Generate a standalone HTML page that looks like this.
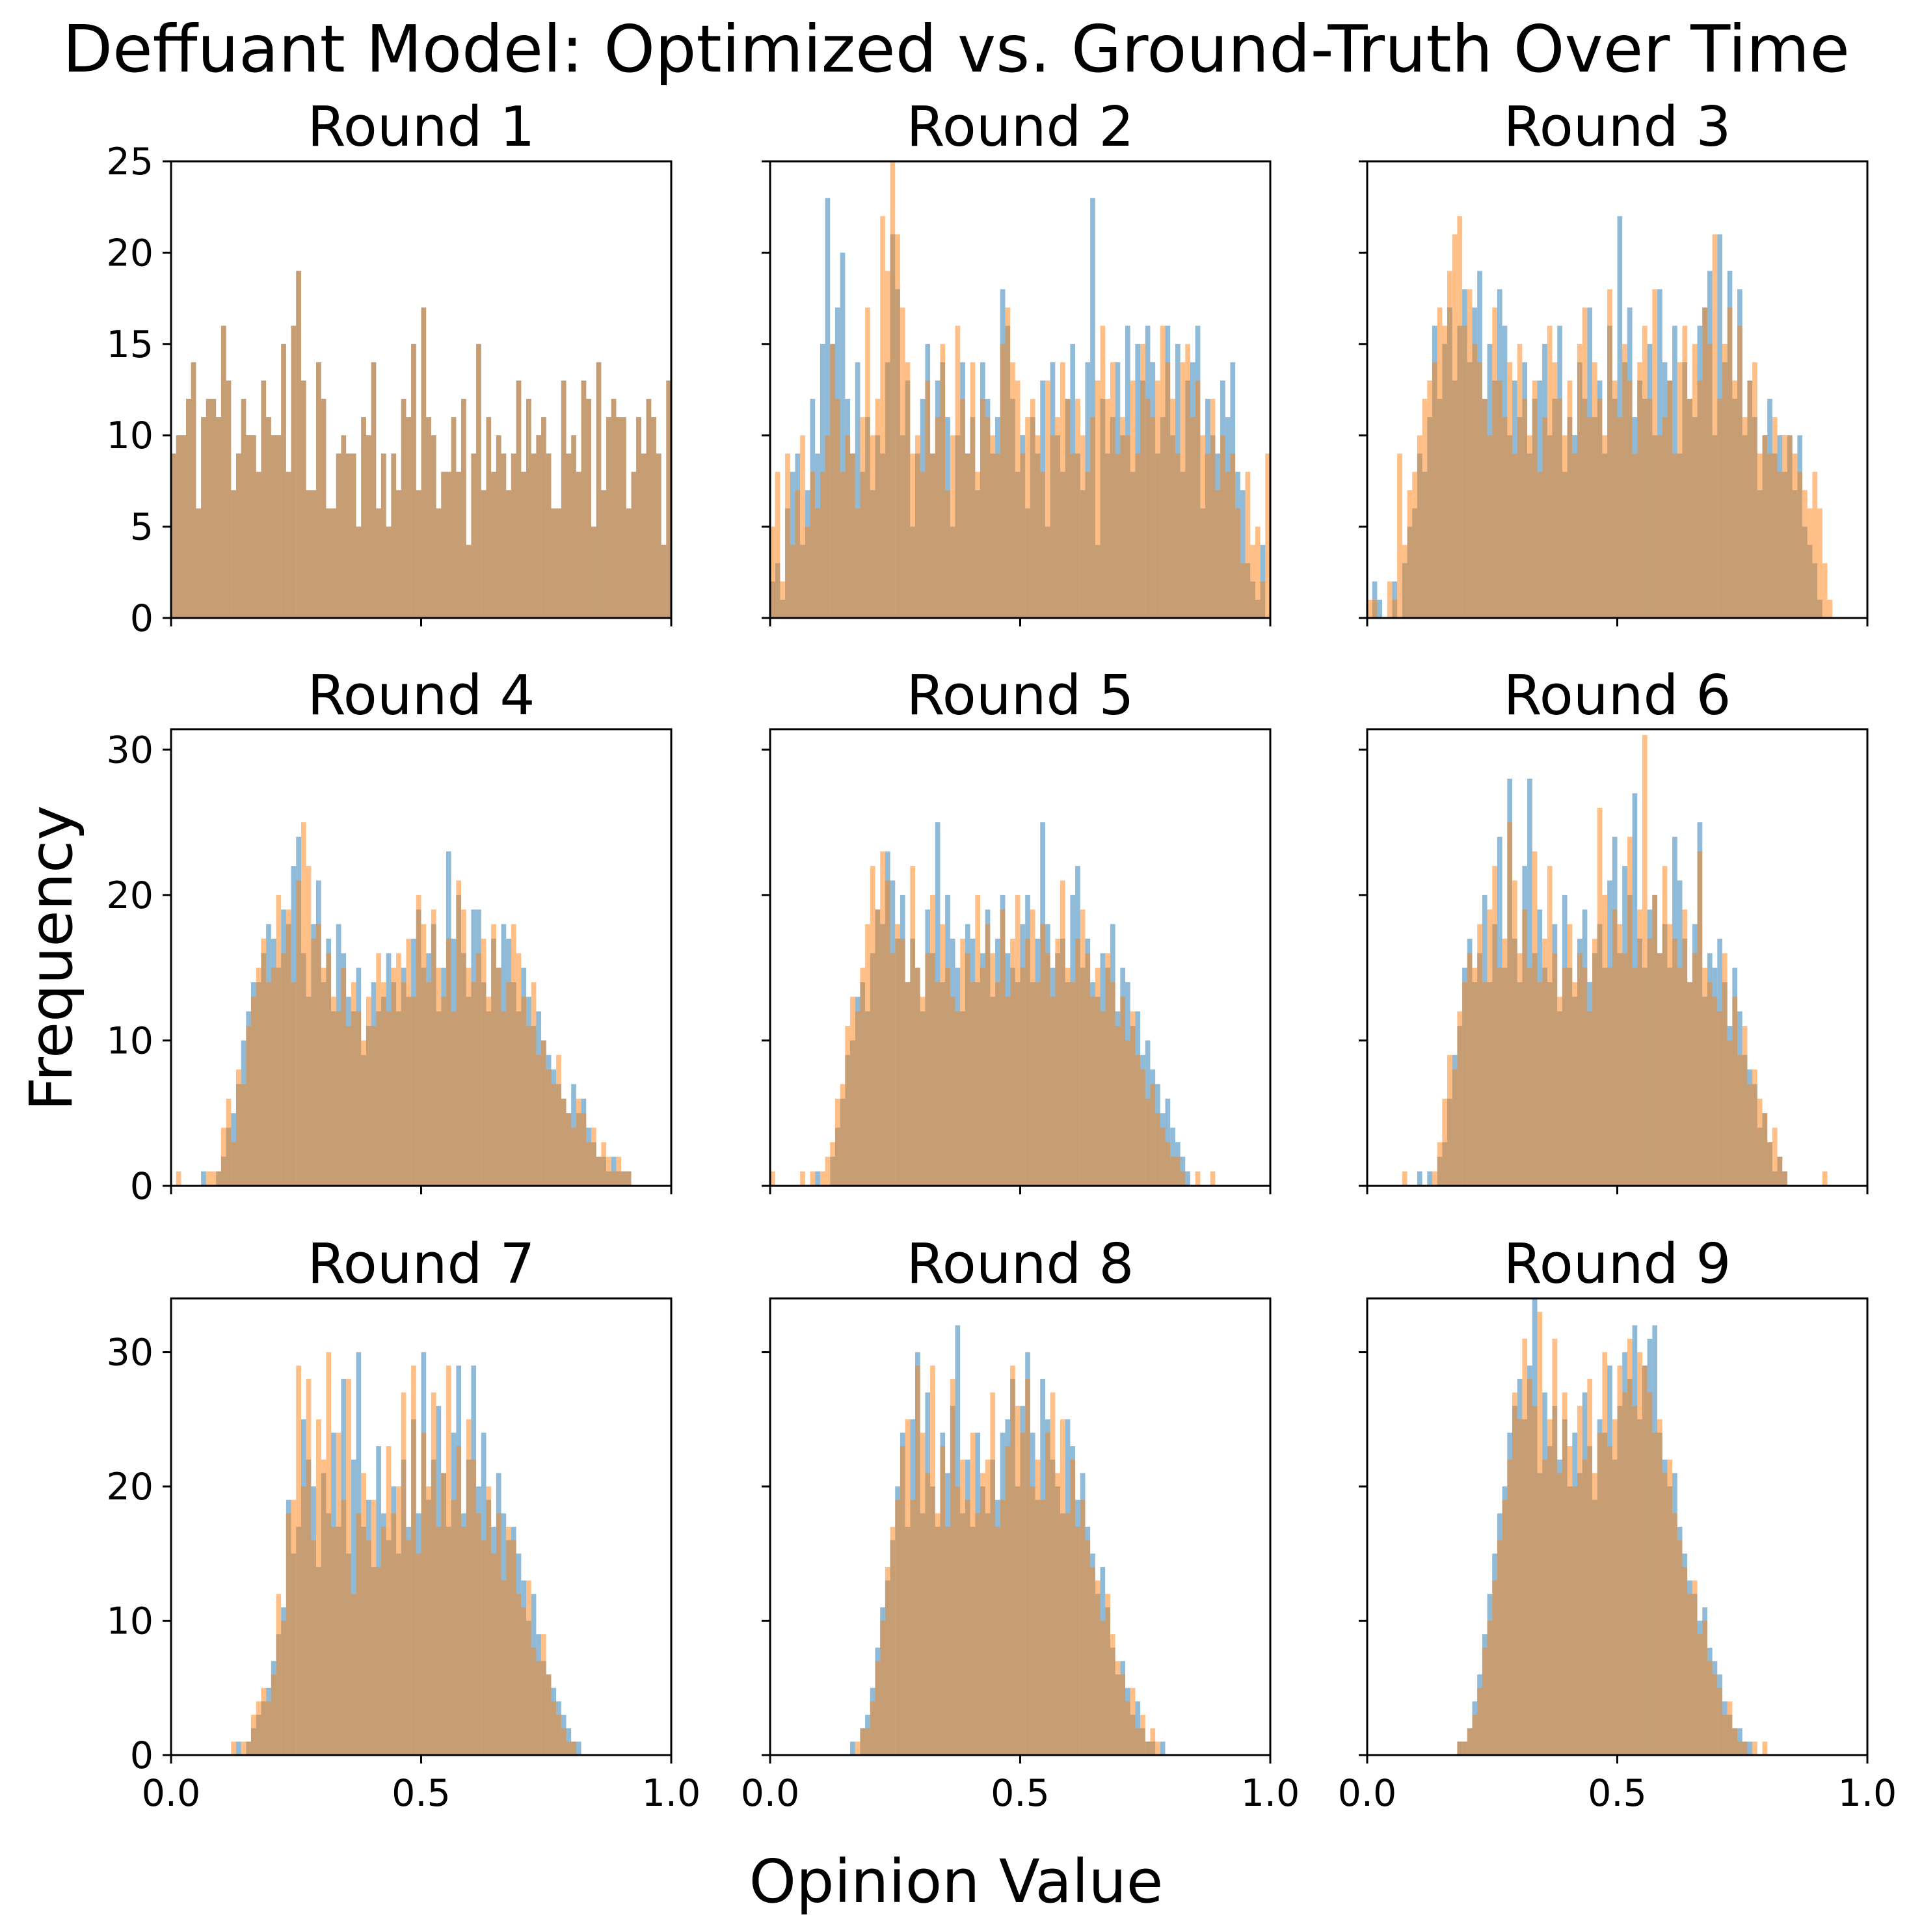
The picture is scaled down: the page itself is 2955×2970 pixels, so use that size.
<!DOCTYPE html>
<html><head><meta charset="utf-8"><style>
html,body{margin:0;padding:0;background:#fff;}
svg{display:block;font-family:"DejaVu Sans","Liberation Sans",sans-serif;}
</style></head><body>
<svg id="fig" width="2955" height="2970" viewBox="0 0 2955 2970" xmlns="http://www.w3.org/2000/svg">
<rect width="2955" height="2970" fill="#fff"/>
<text x="1470" y="110" font-size="100" text-anchor="middle">Deffuant Model: Optimized vs. Ground-Truth Over Time</text>
<text x="0" y="0" font-size="91" text-anchor="middle" transform="translate(110,1473) rotate(-90)">Frequency</text>
<text x="1470" y="2924" font-size="92" text-anchor="middle">Opinion Value</text>
</svg>
<script>
const binCount = 100;
const r1Values = [9,10,10,12,14,6,11,12,12,11,16,13,7,9,12,10,10,8,13,11,10,10,15,8,16,19,13,7,7,14,12,6,6,9,10,9,9,5,11,10,14,6,9,5,9,7,12,11,15,7,17,11,10,6,8,8,11,8,12,4,9,15,7,11,8,10,9,7,9,13,8,12,9,10,11,9,6,6,13,9,10,8,13,12,5,14,7,11,12,11,11,6,8,11,9,12,11,9,4,13];
const r2Blue = [2,3,1,6,8,9,4,7,12,9,15,23,15,17,20,12,9,14,8,11,7,10,9,14,21,18,10,13,5,9,12,15,9,13,14,11,5,10,14,9,11,7,14,12,9,11,18,16,12,8,10,6,11,9,13,5,14,10,8,12,15,9,7,14,23,4,12,9,11,14,10,16,8,15,13,16,14,9,11,16,10,15,8,13,14,16,6,12,10,9,13,11,14,8,7,3,2,1,4,0];
const r2Orange = [5,8,2,9,4,7,10,5,8,6,8,10,15,12,8,10,9,6,11,17,10,12,22,19,25,21,17,14,9,10,8,13,9,11,15,7,10,16,12,9,14,8,12,11,10,9,15,17,14,13,9,11,12,10,8,13,10,11,14,12,9,12,10,8,11,13,16,12,14,9,11,10,13,9,15,12,11,13,16,14,12,9,14,15,11,13,10,9,12,7,10,8,9,6,3,8,4,5,2,9];
const r3Blue = [0,2,1,0,0,2,0,3,5,6,9,8,11,16,12,15,17,13,16,18,14,17,19,12,15,13,18,16,10,13,11,14,9,12,13,15,10,12,16,8,11,10,14,12,17,11,13,9,16,12,22,14,17,11,13,12,15,10,18,14,13,16,9,14,12,11,16,17,19,10,21,14,19,12,18,10,13,11,7,10,12,9,10,8,10,7,10,5,4,3,1,0,0,0,0,0,0,0,0,0];
const r3Orange = [1,1,0,0,2,1,9,4,7,8,10,12,13,14,17,16,19,21,22,16,18,15,14,12,10,17,13,11,14,9,15,12,10,13,8,11,16,14,12,10,13,9,15,17,11,14,12,10,18,13,11,15,13,9,14,16,12,18,10,11,13,9,14,16,12,15,13,17,15,21,12,15,17,13,16,11,13,14,9,10,9,11,8,10,10,9,8,7,6,8,6,3,1,0,0,0,0,0,0,0];
const r4Blue = [0,0,0,0,0,0,1,0,0,1,2,4,5,7,10,12,14,14,16,18,17,15,19,18,22,24,16,13,18,21,14,17,12,18,16,13,12,15,9,11,14,12,13,16,14,12,15,13,17,19,15,16,18,12,15,23,17,20,16,13,19,19,14,12,17,15,18,17,14,12,15,13,11,12,10,9,8,7,6,5,7,5,6,4,3,2,2,1,2,1,1,1,0,0,0,0,0,0,0,0];
const r4Orange = [0,1,0,0,0,0,0,1,1,1,4,6,3,8,7,11,13,15,17,14,15,20,16,19,14,21,25,22,17,18,15,16,13,12,15,11,14,12,10,13,11,16,14,12,15,16,14,17,13,20,18,14,19,15,13,17,12,21,19,15,14,16,17,13,18,15,12,14,18,16,13,11,14,9,10,8,7,9,6,5,4,6,5,3,4,2,3,2,1,2,1,1,0,0,0,0,0,0,0,0];
const r5Blue = [0,0,0,0,0,0,0,0,0,1,0,0,2,4,6,9,10,13,14,12,16,19,18,23,21,17,20,14,17,15,12,19,16,25,14,20,17,15,12,18,17,14,16,19,13,17,20,16,15,14,18,20,14,17,25,18,15,16,17,14,20,22,15,17,14,13,16,15,18,12,15,14,11,12,9,10,8,7,5,6,4,3,2,1,0,0,0,0,0,0,0,0,0,0,0,0,0,0,0,0];
const r5Orange = [1,0,0,0,0,0,1,0,1,0,1,2,3,6,7,11,13,12,15,18,22,19,23,21,16,18,17,14,22,15,13,16,20,14,18,15,13,12,17,16,14,20,15,18,16,14,19,13,17,20,15,17,19,14,18,16,13,17,21,15,14,17,19,16,13,15,12,16,14,11,13,10,12,9,8,6,7,5,4,3,2,2,1,0,0,1,0,0,1,0,0,0,0,0,0,0,0,0,0,0];
const r6Blue = [0,0,0,0,0,0,0,0,0,0,1,0,1,0,2,3,6,9,11,15,17,14,16,20,14,18,24,15,28,17,14,22,28,16,19,15,14,18,12,20,15,13,17,19,14,16,18,15,21,24,16,22,20,27,17,15,19,20,16,18,15,24,21,17,14,18,25,13,16,15,17,14,11,15,12,9,8,7,4,5,3,1,2,1,0,0,0,0,0,0,0,0,0,0,0,0,0,0,0,0];
const r6Orange = [0,0,0,0,0,0,0,1,0,0,0,0,0,1,3,6,9,8,12,14,16,15,18,14,19,22,15,17,25,21,16,19,15,23,14,17,22,16,13,15,18,14,16,15,12,17,26,20,15,19,18,16,24,15,19,31,17,20,16,22,18,17,15,19,14,16,23,15,14,13,12,16,10,13,9,11,7,8,6,5,3,4,2,1,0,0,0,0,0,0,0,1,0,0,0,0,0,0,0,0];
const r7Blue = [0,0,0,0,0,0,0,0,0,0,0,0,0,1,0,1,2,3,4,5,7,9,11,19,15,17,25,22,20,14,21,18,24,17,28,15,22,30,17,19,14,23,18,16,20,15,22,17,25,18,30,19,22,26,21,17,24,29,18,22,29,20,24,19,17,21,18,16,17,15,13,10,12,9,7,6,5,4,3,2,1,1,0,0,0,0,0,0,0,0,0,0,0,0,0,0,0,0,0,0];
const r7Orange = [0,0,0,0,0,0,0,0,0,0,0,0,1,0,1,1,3,4,5,4,6,12,10,18,19,29,20,28,16,25,22,30,17,24,19,28,12,18,21,16,19,14,17,23,18,20,27,16,29,15,24,20,27,17,21,29,19,23,17,25,22,18,16,20,15,18,13,17,16,12,11,13,8,7,9,6,4,3,2,1,1,0,0,0,0,0,0,0,0,0,0,0,0,0,0,0,0,0,0,0];
const r8Blue = [0,0,0,0,0,0,0,0,0,0,0,0,0,0,0,0,1,0,2,3,5,8,11,13,16,20,24,17,25,30,18,27,20,17,24,21,26,32,18,22,17,24,20,18,22,19,24,25,28,20,26,30,24,19,28,25,22,20,18,25,23,19,21,17,15,12,14,11,8,6,7,5,3,4,2,1,1,0,1,0,0,0,0,0,0,0,0,0,0,0,0,0,0,0,0,0,0,0,0,0];
const r8Orange = [0,0,0,0,0,0,0,0,0,0,0,0,0,0,0,0,0,1,2,2,4,7,10,14,17,19,23,25,19,29,24,21,29,18,23,17,28,20,22,19,24,18,21,22,27,17,19,23,29,26,24,28,20,22,19,24,27,21,25,18,22,17,19,16,14,13,10,12,9,7,6,4,5,2,3,1,2,1,0,0,0,0,0,0,0,0,0,0,0,0,0,0,0,0,0,0,0,0,0,0];
const r9Blue = [0,0,0,0,0,0,0,0,0,0,0,0,0,0,0,0,0,0,1,1,2,4,6,9,12,15,18,20,24,26,28,25,29,34,21,27,23,26,22,25,20,24,21,27,23,19,25,24,29,22,26,30,28,32,25,29,31,32,24,22,20,21,17,15,13,12,10,11,8,7,6,4,3,2,2,1,1,0,0,0,0,0,0,0,0,0,0,0,0,0,0,0,0,0,0,0,0,0,0,0];
const r9Orange = [0,0,0,0,0,0,0,0,0,0,0,0,0,0,0,0,0,0,1,1,2,3,5,8,10,13,16,19,22,27,25,31,28,26,33,22,25,31,21,27,23,20,26,22,28,21,24,30,23,25,29,27,31,26,30,29,27,24,25,21,22,18,16,14,12,13,9,10,7,6,5,3,4,2,1,1,0,1,0,1,0,0,0,0,0,0,0,0,0,0,0,0,0,0,0,0,0,0,0,0];
const row1Ticks = [0,5,10,15,20,25];
const row2Ticks = [0,10,20,30];
const row3Ticks = [0,10,20,30];
const xTicks = [0, 0.5, 1.0];
const xTickLabels = ["0.0","0.5","1.0"];
const rowMax = [25, 31.4, 34.0];

const NS = "http://www.w3.org/2000/svg";
const svg = document.getElementById('fig');
const colLeft = [263, 1184, 2102];
const rowTop = [248, 1121, 1996];
const W = 769, H = 702;
const panels = [
  [r1Values, r1Values], [r2Blue, r2Orange], [r3Blue, r3Orange],
  [r4Blue, r4Orange], [r5Blue, r5Orange], [r6Blue, r6Orange],
  [r7Blue, r7Orange], [r8Blue, r8Orange], [r9Blue, r9Orange]
];
const rowTicks = [row1Ticks, row2Ticks, row3Ticks];
const titleY = [224, 1098, 1972];

function mk(tag, attrs) {
  const e = document.createElementNS(NS, tag);
  for (const k in attrs) e.setAttribute(k, attrs[k]);
  return e;
}

panels.forEach((series, p) => {
  const r = Math.floor(p / 3), c = p % 3;
  const L = colLeft[c], T = rowTop[r];
  const xS = v => L + v * W;
  const yS = v => T + H - (v / rowMax[r]) * H;
  const g = mk('g', {});
  
  
  svg.appendChild(g);
  const colors = ['#1f77b4', '#ff7f0e'];
  const names = ['optimized', 'ground-truth'];
  series.forEach((vals, s) => {
    const sg = mk('g', {fill: colors[s], 'fill-opacity': 0.5});
    
    
    g.appendChild(sg);
    for (let i = 0; i < binCount; i++) {
      const v = vals[i] || 0;
      if (v <= 0) continue;
      const x0 = xS(i / binCount), x1 = xS((i + 1) / binCount);
      const y = yS(Math.min(v, rowMax[r]));
      const b = mk('rect', {x: x0, y: y, width: x1 - x0, height: T + H - y});
      
      
      sg.appendChild(b);
    }
  });
  const frame = mk('rect', {x: L, y: T, width: W, height: H, fill: 'none', stroke: '#000', 'stroke-width': 3});
  
  
  g.appendChild(frame);
  const t = mk('text', {x: L + W / 2, y: titleY[r], 'font-size': 85, 'text-anchor': 'middle'});
  
  
  t.textContent = 'Round ' + (p + 1);
  g.appendChild(t);
  xTicks.forEach((xv, k) => {
    const tk = mk('line', {x1: xS(xv), x2: xS(xv), y1: T + H, y2: T + H + 13, stroke: '#000', 'stroke-width': 3});
    
    
    g.appendChild(tk);
    if (r === 2) {
      const lb = mk('text', {x: xS(xv), y: T + H + 78, 'font-size': 57, 'text-anchor': 'middle'});
      
      
      lb.textContent = xTickLabels[k];
      g.appendChild(lb);
    }
  });
  rowTicks[r].forEach(yv => {
    const tk = mk('line', {x1: L - 13, x2: L, y1: yS(yv), y2: yS(yv), stroke: '#000', 'stroke-width': 3});
    
    
    g.appendChild(tk);
    if (c === 0) {
      const lb = mk('text', {x: L - 27, y: yS(yv) + 20, 'font-size': 57, 'text-anchor': 'end'});
      
      
      lb.textContent = String(yv);
      g.appendChild(lb);
    }
  });
});
</script>
</body></html>
